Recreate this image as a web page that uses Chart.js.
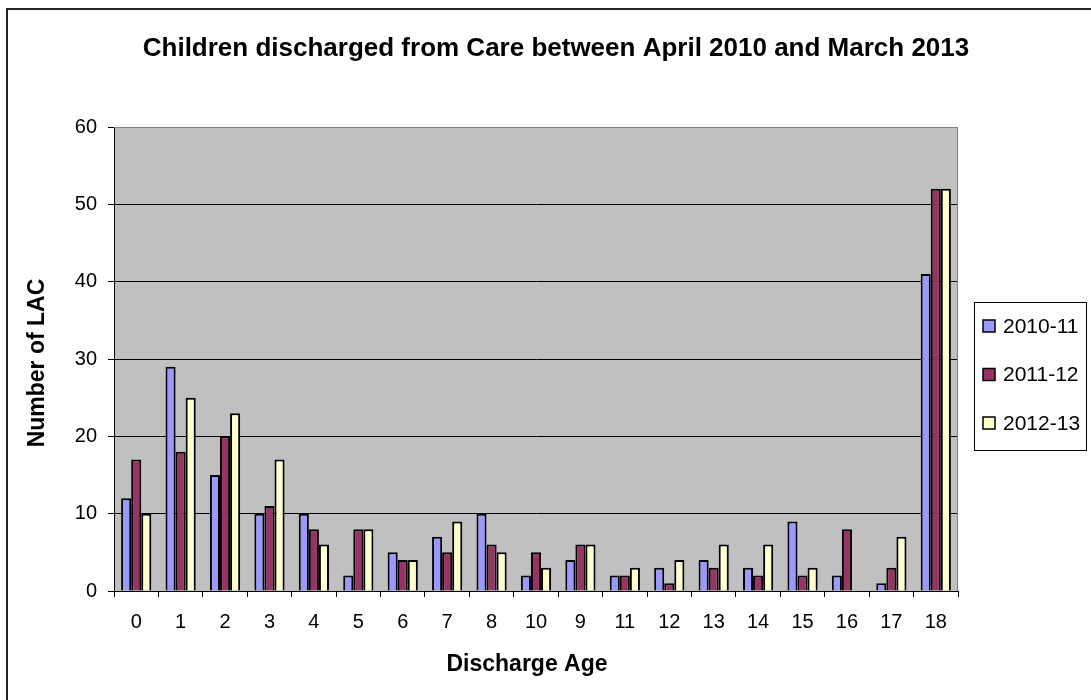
<!DOCTYPE html>
<html>
<head>
<meta charset="utf-8">
<title>Children discharged from Care</title>
<script src="https://cdn.jsdelivr.net/npm/chart.js@4.4.1/dist/chart.umd.min.js"></script>
<style>
  html, body { margin: 0; padding: 0; background: #ffffff; }
  #wrap { position: relative; width: 1091px; height: 700px; }
</style>
</head>
<body>
<div id="wrap"><canvas id="chart" width="1091" height="700"></canvas></div>
<script>
// Discharge ages as they appear along the axis
const ageLabels = ['0', '1', '2', '3', '4', '5', '6', '7', '8', '10', '9', '11', '12', '13', '14', '15', '16', '17', '18'];

// Number of looked-after children discharged, per financial year
const year2010 = [12, 29, 15, 10, 10, 2, 5, 7, 10, 2, 4, 2, 3, 4, 3, 9, 2, 1, 41];
const year2011 = [17, 18, 20, 11, 8, 8, 4, 5, 6, 5, 6, 2, 1, 3, 2, 2, 8, 3, 52];
const year2012 = [10, 25, 23, 17, 6, 8, 4, 9, 5, 3, 6, 3, 4, 6, 6, 3, 0, 7, 52];

const seriesNames = ['2010-11', '2011-12', '2012-13'];
const seriesColors = ['#9999FF', '#993366', '#FFFFCC'];

const yTicks = [0, 10, 20, 30, 40, 50, 60];

const chartTitle = 'Children discharged from Care between April 2010 and March 2013';
const xTitle = 'Discharge Age';
const yTitle = 'Number of LAC';

const FONT = '"Liberation Sans", Arial, Helvetica, sans-serif';

// Frame, plot background, titles and legend
const decorations = {
  id: 'decorations',
  beforeDraw(chart) {
    const { ctx, chartArea: a } = chart;
    ctx.save();
    ctx.fillStyle = '#ffffff';
    ctx.fillRect(0, 0, chart.width, chart.height);
    ctx.strokeStyle = '#222222';
    ctx.lineWidth = 2;
    ctx.strokeRect(7, 9, chart.width + 20, chart.height + 20);
    ctx.fillStyle = '#C0C0C0';
    ctx.fillRect(a.left, a.top, a.right - a.left, a.bottom - a.top);
    ctx.restore();
  },
  afterDraw(chart) {
    const { ctx, chartArea: a } = chart;
    ctx.save();
    // plot area outline on the top and right
    ctx.strokeStyle = '#808080';
    ctx.lineWidth = 1;
    ctx.beginPath();
    ctx.moveTo(a.left, a.top + 0.5);
    ctx.lineTo(a.right - 0.5, a.top + 0.5);
    ctx.lineTo(a.right - 0.5, a.bottom);
    ctx.stroke();

    ctx.fillStyle = '#000000';
    ctx.textAlign = 'center';
    ctx.textBaseline = 'middle';
    ctx.font = 'bold 26px ' + FONT;
    ctx.fillText(chartTitle, 556, 49);

    ctx.font = 'bold 23px ' + FONT;
    ctx.fillText(xTitle, 527, 665);

    ctx.save();
    ctx.translate(38, 363);
    ctx.rotate(-Math.PI / 2);
    ctx.fillText(yTitle, 0, 0);
    ctx.restore();

    // legend
    const lx = 974, ly = 302, lw = 113, lh = 149;
    ctx.fillStyle = '#ffffff';
    ctx.fillRect(lx, ly, lw, lh);
    ctx.strokeStyle = '#000000';
    ctx.lineWidth = 1;
    ctx.strokeRect(lx + 0.5, ly + 0.5, lw - 1, lh - 1);
    ctx.font = '21px ' + FONT;
    ctx.textAlign = 'left';
    chart.data.datasets.forEach((ds, i) => {
      const cy = 326 + i * 48.5;
      ctx.fillStyle = ds.backgroundColor;
      ctx.fillRect(983, cy - 6, 12, 12);
      ctx.strokeStyle = '#000000';
      ctx.lineWidth = 1.5;
      ctx.strokeRect(983, cy - 6, 12, 12);
      ctx.fillStyle = '#000000';
      ctx.fillText(ds.label, 1003, cy + 1);
    });
    ctx.restore();
  }
};

const seriesData = [year2010, year2011, year2012];

new Chart(document.getElementById('chart'), {
  type: 'bar',
  data: {
    labels: ageLabels,
    datasets: seriesData.map((values, i) => ({
      label: seriesNames[i],
      data: values,
      backgroundColor: seriesColors[i],
      borderColor: '#000000',
      borderWidth: 2,
      barPercentage: 1,
      categoryPercentage: 0.68
    }))
  },
  options: {
    responsive: false,
    animation: false,
    devicePixelRatio: 1,
    layout: { padding: { top: 127, right: 133, bottom: 0, left: 0 } },
    plugins: {
      legend: { display: false },
      title: { display: false },
      tooltip: { enabled: false }
    },
    scales: {
      x: {
        grid: {
          display: true,
          drawOnChartArea: false,
          drawTicks: true,
          tickLength: 6,
          color: '#000000',
          offset: true
        },
        border: { display: true, color: '#000000', width: 1 },
        ticks: {
          color: '#000000',
          padding: 13,
          font: { family: FONT, size: 20 },
          maxRotation: 0,
          autoSkip: false
        },
        afterFit(scale) { scale.height = 109; }
      },
      y: {
        min: 0,
        max: 60,
        afterBuildTicks(scale) { scale.ticks = yTicks.map(v => ({ value: v })); },
        grid: {
          color: (c) => (c.tick && c.tick.value === 60 ? '#808080' : '#000000'),
          tickColor: '#000000',
          drawTicks: true,
          tickLength: 6
        },
        border: { display: true, color: '#000000', width: 1 },
        ticks: {
          color: '#000000',
          padding: 11,
          font: { family: FONT, size: 20 }
        },
        afterFit(scale) { scale.width = 114; }
      }
    }
  },
  plugins: [decorations]
});
</script>
</body>
</html>
